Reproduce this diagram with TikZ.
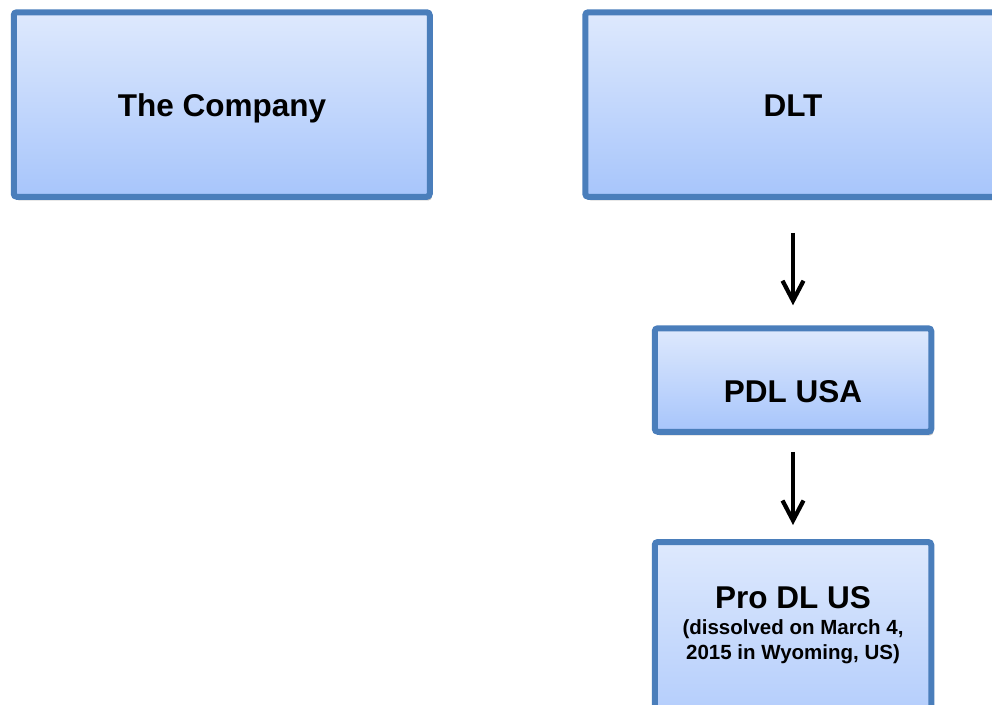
\documentclass[tikz,border=0pt]{standalone}
\usepackage{fontspec}
\setmainfont{Liberation Sans}
\usetikzlibrary{arrows.meta,shadows}
\definecolor{boxline}{RGB}{74,126,187}
\definecolor{boxtop}{RGB}{222,233,253}
\definecolor{boxbot}{RGB}{167,197,251}
\tikzset{
  orgbox/.style={draw=boxline, line width=6pt, rounded corners=3pt,
    top color=boxtop, bottom color=boxbot, inner sep=0pt,
    drop shadow={shadow xshift=2pt, shadow yshift=-3.5pt, opacity=0.45, fill=black!55}},
  bigtext/.style={font=\fontsize{31.5}{36}\selectfont\bfseries, anchor=base, inner sep=0pt},
  smalltext/.style={font=\fontsize{20.5}{25}\selectfont\bfseries, anchor=base, inner sep=0pt},
  flowarrow/.style={draw=black, line width=4.2pt, -{Straight Barb[length=20pt,width=21pt,line width=4.2pt]}}
}
\begin{document}
\begin{tikzpicture}[x=1pt,y=-1pt]
\useasboundingbox (0,0) rectangle (992,704);
\node[orgbox, minimum width=416pt, minimum height=184.5pt] (company) at (221.75,104.5) {};
\node[orgbox, minimum width=415.5pt, minimum height=184.5pt] (dlt) at (793,104.5) {};
\node[orgbox, minimum width=276.5pt, minimum height=103.5pt] (pdl) at (793,380) {};
\node[orgbox, minimum width=276.5pt, minimum height=226pt] (produs) at (793,655) {};

\node[bigtext] (companytext) at (222,116) {The Company};
\node[bigtext] (dlttext) at (793,116) {DLT};
\node[bigtext] (pdltext) at (793,402) {PDL USA};
\node[bigtext] (produstext) at (793,608) {Pro DL US};
\node[smalltext] (produsline1) at (793,634) {(dissolved on March 4,};
\node[smalltext] (produsline2) at (793,659) {2015 in Wyoming, US)};

\draw[flowarrow, shorten <=33pt, shorten >=20pt] (pdl.north |- dlt.south) -- (pdl.north);
\draw[flowarrow, shorten <=17pt, shorten >=14pt] (pdl.south) -- (produs.north);
\end{tikzpicture}
\end{document}
